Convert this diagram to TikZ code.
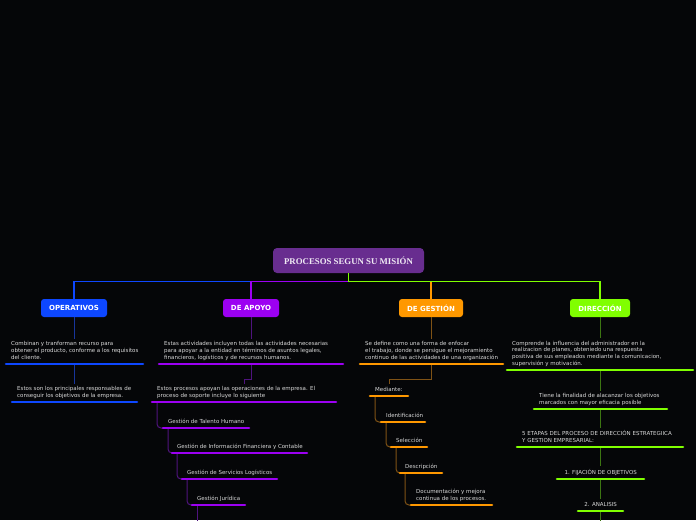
\documentclass[tikz,border=0pt]{standalone}
\usepackage{fontspec}
\setmainfont{DejaVu Sans}
\newfontfamily\titlefont{Liberation Serif}
\usepackage{xcolor}
\usepackage{tikz}
\usetikzlibrary{positioning}

\definecolor{bgdark}{HTML}{050608}
\definecolor{titlepurple}{HTML}{682D8F}
\definecolor{opblue}{HTML}{0D47FF}
\definecolor{opbluedark}{HTML}{17359C}
\definecolor{appurple}{HTML}{9C00F2}
\definecolor{appurpledark}{HTML}{4F137E}
\definecolor{georange}{HTML}{FF9800}
\definecolor{georangedark}{HTML}{7F5215}
\definecolor{digreen}{HTML}{80FF00}
\definecolor{digreendark}{HTML}{3C7512}
\definecolor{txtgray}{HTML}{DADADA}

\begin{document}
\begin{tikzpicture}[
    x=1pt, y=-1pt,
    title/.style={rectangle, rounded corners=4pt, fill=titlepurple, minimum width=151pt, minimum height=25pt, font=\titlefont\bfseries\fontsize{8.8}{10}\selectfont, text=white!90!titlepurple},
    branch/.style={rectangle, rounded corners=3pt, fill=#1, minimum height=18pt, font=\bfseries\fontsize{7}{8}\selectfont, text=white},
    topic/.style={anchor=south west, inner xsep=5pt, inner ysep=2.5pt, align=left, font=\fontsize{5.5}{6.7}\selectfont, text=txtgray, execute at end node=\strut},
    link/.style={line width=1.3pt},
    sub/.style={line width=1pt},
    bar/.style={line width=2.6pt, line cap=round}
]
\fill[bgdark] (0,0) rectangle (696,520);
\useasboundingbox (0,0) rectangle (696,520);
% Title and branches
\node[title] (title) at (348.5,260.5) {PROCESOS SEGUN SU MISIÓN};
\node[branch=opblue, minimum width=66pt] (op) at (74,308) {OPERATIVOS};
\node[branch=appurple, minimum width=56pt] (ap) at (251,308) {DE APOYO};
\node[branch=georange, minimum width=64pt] (ge) at (431,308) {DE GESTIÓN};
\node[branch=digreen, minimum width=60pt] (di) at (600,308) {DIRECCIÓN};
% Operativos
\node[topic] (op1) at (6,364) {Combinan y tranforman recurso para\\obtener el producto, conforme a los requisitos\\del cliente.};
\node[topic] (op2) at (12,402) {Estos son los principales responsables de\\conseguir los objetivos de la empresa.};
% De apoyo
\node[topic] (ap1) at (159,364) {Estas actividades incluyen todas las actividades necesarias\\para apoyar a la entidad en términos de asuntos legales,\\financieros, logísticos y de recursos humanos.};
\node[topic] (ap2) at (152,402) {Estos procesos apoyan las operaciones de la empresa. El\\proceso de soporte incluye lo siguiente};
\node[topic] (ap3) at (163,428) {Gestión de Talento Humano};
\node[topic] (ap4) at (172,453) {Gestión de Información Financiera y Contable};
\node[topic] (ap5) at (182,479) {Gestión de Servicios Logísticos};
\node[topic] (ap6) at (192,505) {Gestión Jurídica};
\coordinate (apend) at (197,530);
% De gestion
\node[topic] (ge1) at (360,364) {Se define como una forma de enfocar\\el trabajo, donde se persigue el mejoramiento\\continuo de las actividades de una organización};
\node[topic] (ge2) at (370,396) {Mediante:};
\node[topic] (ge3) at (381,422) {Identificación};
\node[topic] (ge4) at (391,447) {Selección};
\node[topic] (ge5) at (400,473) {Descripción};
\node[topic] (ge6) at (411,505) {Documentación y mejora\\continua de los procesos.};
% Direccion
\node[topic] (di1) at (507,370) {Comprende la influencia del administrador en la\\realizacion de planes, obteniedo una respuesta\\positiva de sus empleados mediante la comunicacion,\\supervisión y motivación.};
\node[topic] (di2) at (534,409) {Tiene la finalidad de alacanzar los objetivos\\marcados con mayor eficacia posible};
\node[topic] (di3) at (517,447) {5 ETAPAS DEL PROCESO DE DIRECCIÓN ESTRATEGIICA\\Y GESTION EMPRESARIAL:};
\node[topic, minimum width=87pt, align=center] (di4) at (557,479) {1. FIJACIÓN DE OBJETIVOS};
\node[topic, minimum width=45pt, align=center] (di5) at (578,511) {2. ANALISIS};
\coordinate (diend) at (600,530);
% Links from title
\draw[link, opblue] (title.south) -- ++(0,8) -| (op.north);
\draw[link, appurple] (title.south) -- ++(0,8) -| (ap.north);
\draw[link, georange] (title.south) -- ++(0,8) -| (ge.north);
\draw[link, digreen] (title.south) -- ++(0,8) -| (di.north);
% Operativos links
\draw[sub, opbluedark] (op.south) -- (op.south |- op1.north);
\draw[sub, opbluedark] (op.south |- op1.south) -- (op.south |- op2.north);
% De apoyo links
\draw[sub, appurpledark] (ap.south) -- (ap.south |- ap1.north);
\draw[sub, appurpledark] (ap.south |- ap1.south) -- ++(0,15) -| ([xshift=92pt]ap2.north west);
\draw[sub, appurpledark, rounded corners=4pt] ([xshift=5pt]ap2.south west) |- (ap3.south west);
\draw[sub, appurpledark, rounded corners=4pt] ([xshift=5pt]ap3.south west) |- (ap4.south west);
\draw[sub, appurpledark, rounded corners=4pt] ([xshift=5pt]ap4.south west) |- (ap5.south west);
\draw[sub, appurpledark, rounded corners=4pt] ([xshift=5pt]ap5.south west) |- (ap6.south west);
\draw[sub, appurpledark] ([xshift=5pt]ap6.south west) -- (apend);
% De gestion links
\draw[sub, georangedark] (ge.south) -- (ge.south |- ge1.north);
\draw[sub, georangedark] (ge.south |- ge1.south) -- ++(0,15) -| ([xshift=19pt]ge2.north west);
\draw[sub, georangedark, rounded corners=4pt] ([xshift=5pt]ge2.south west) |- (ge3.south west);
\draw[sub, georangedark, rounded corners=4pt] ([xshift=5pt]ge3.south west) |- (ge4.south west);
\draw[sub, georangedark, rounded corners=4pt] ([xshift=5pt]ge4.south west) |- (ge5.south west);
\draw[sub, georangedark, rounded corners=4pt] ([xshift=5pt]ge5.south west) |- (ge6.south west);
% Direccion links
\draw[sub, digreendark] (di.south) -- (di.south |- di1.north);
\draw[sub, digreendark] (di.south |- di1.south) -- (di.south |- di2.north);
\draw[sub, digreendark] (di.south |- di2.south) -- (di.south |- di3.north);
\draw[sub, digreendark] (di.south |- di3.south) -- (di.south |- di4.north);
\draw[sub, digreendark] (di.south |- di4.south) -- (di.south |- di5.north);
\draw[sub, digreendark] (di.south |- di5.south) -- (diend);
% Underlines (node / colour / length)
\foreach \n/\c/\w in {op1/opblue/137, op2/opblue/125, ap1/appurple/184, ap2/appurple/184, ap3/appurple/86, ap4/appurple/135, ap5/appurple/95, ap6/appurple/53, ge1/georange/143, ge2/georange/38, ge3/georange/44, ge4/georange/36, ge5/georange/42, ge6/georange/81, di1/digreen/186, di2/digreen/133, di3/digreen/166, di4/digreen/87, di5/digreen/45}
  \draw[bar, \c] (\n.south west) -- ++(\w,0);
\end{tikzpicture}
\end{document}
